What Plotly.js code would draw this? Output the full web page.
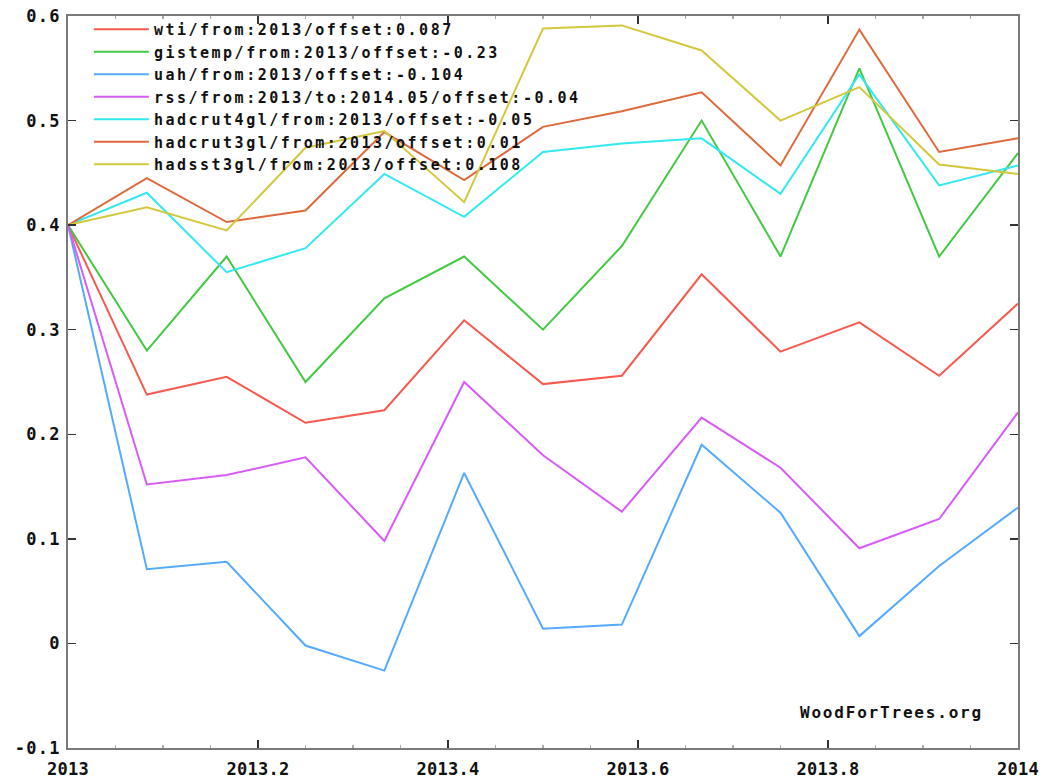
<!DOCTYPE html>
<html>
<head>
<meta charset="utf-8">
<script src="https://cdn.plot.ly/plotly-3.0.1.min.js"></script>
<style>
  html, body { margin: 0; padding: 0; background: #ffffff; }
  #chart { width: 1047px; height: 781px; }
  .legendtext { letter-spacing: 2.5px; }
  .annotation-text { letter-spacing: 1.8px; }
  .ytick text { letter-spacing: 1.2px; }
  .xtick text { letter-spacing: 0.3px; }
</style>
</head>
<body>
<div id="chart"></div>
<script>
// Time axis (decimal years, monthly)
var months = [2013, 2013.083, 2013.167, 2013.25, 2013.333, 2013.417, 2013.5, 2013.583, 2013.667, 2013.75, 2013.833, 2013.917, 2014];

// Series values (offset anomalies)
var wti        = [0.400, 0.238, 0.255, 0.211, 0.223, 0.309, 0.248, 0.256, 0.353, 0.279, 0.307, 0.256, 0.325];
var gistemp    = [0.400, 0.280, 0.370, 0.250, 0.330, 0.370, 0.300, 0.380, 0.500, 0.370, 0.550, 0.370, 0.469];
var uah        = [0.400, 0.071, 0.078, -0.002, -0.026, 0.163, 0.014, 0.018, 0.190, 0.125, 0.007, 0.074, 0.130];
var rss        = [0.400, 0.152, 0.161, 0.178, 0.098, 0.250, 0.180, 0.126, 0.216, 0.168, 0.091, 0.119, 0.221];
var hadcrut4gl = [0.400, 0.431, 0.355, 0.378, 0.449, 0.408, 0.470, 0.478, 0.483, 0.430, 0.544, 0.438, 0.457];
var hadcrut3gl = [0.400, 0.445, 0.403, 0.414, 0.489, 0.443, 0.494, 0.509, 0.527, 0.457, 0.587, 0.470, 0.483];
var hadsst3gl  = [0.400, 0.417, 0.395, 0.474, 0.490, 0.422, 0.588, 0.591, 0.567, 0.500, 0.532, 0.458, 0.449];

// Legend labels
var seriesNames = [
  "wti/from:2013/offset:0.087",
  "gistemp/from:2013/offset:-0.23",
  "uah/from:2013/offset:-0.104",
  "rss/from:2013/to:2014.05/offset:-0.04",
  "hadcrut4gl/from:2013/offset:-0.05",
  "hadcrut3gl/from:2013/offset:0.01",
  "hadsst3gl/from:2013/offset:0.108"
];
var seriesColors = ["#f55a50", "#44c844", "#55aaff", "#d65cf5", "#33e8ee", "#dc6a3c", "#d2c83c"];

// Tick labels
var xTickVals = [2013, 2013.2, 2013.4, 2013.6, 2013.8, 2014];
var xTickText = ["2013", "2013.2", "2013.4", "2013.6", "2013.8", "2014"];
var yTickVals = [-0.1, 0, 0.1, 0.2, 0.3, 0.4, 0.5, 0.6];
var yTickText = ["-0.1", "0", "0.1", "0.2", "0.3", "0.4", "0.5", "0.6"];

var seriesData = [wti, gistemp, uah, rss, hadcrut4gl, hadcrut3gl, hadsst3gl];
var traces = seriesData.map(function (vals, i) {
  return {
    type: "scatter",
    mode: "lines",
    x: months,
    y: vals,
    name: seriesNames[i],
    line: { color: seriesColors[i], width: 2 },
    hoverinfo: "skip"
  };
});

var monoFont = "DejaVu Sans Mono, Liberation Mono, monospace";

var layout = {
  width: 1047,
  height: 781,
  margin: { l: 68, r: 29, t: 16, b: 33, pad: 0 },
  paper_bgcolor: "#ffffff",
  plot_bgcolor: "#ffffff",
  showlegend: true,
  legend: {
    x: 0.022, y: 1.004, xanchor: "left", yanchor: "top",
    bgcolor: "rgba(0,0,0,0)",
    borderwidth: 0,
    itemwidth: 55,
    tracegroupgap: 0,
    font: { family: monoFont, size: 15, color: "#111111", weight: "bold" }
  },
  xaxis: {
    range: [2013, 2014],
    tickmode: "array",
    tickvals: xTickVals,
    ticktext: xTickText,
    ticks: "inside",
    ticklen: 8,
    tickwidth: 1.5,
    tickcolor: "#333333",
    showline: true,
    linecolor: "#7a7a7a",
    linewidth: 2,
    mirror: "ticks",
    showgrid: false,
    zeroline: false,
    ticklabelstandoff: 5,
    minor: { ticks: "inside", ticklen: 3, tickcolor: "#aaaaaa", dtick: 0.05, tick0: 2013, showgrid: false },
    tickfont: { family: monoFont, size: 17, color: "#111111", weight: "bold" },
    fixedrange: true
  },
  yaxis: {
    range: [-0.1, 0.6],
    tickmode: "array",
    tickvals: yTickVals,
    ticktext: yTickText,
    ticks: "inside",
    ticklen: 8,
    tickwidth: 1.5,
    tickcolor: "#333333",
    showline: true,
    linecolor: "#7a7a7a",
    linewidth: 2,
    mirror: "ticks",
    showgrid: false,
    zeroline: false,
    ticklabelstandoff: 2,
    tickfont: { family: monoFont, size: 17, color: "#111111", weight: "bold" },
    fixedrange: true
  },
  annotations: [{
    text: "WoodForTrees.org",
    xref: "paper", yref: "paper",
    x: 0.9653, y: 0.048,
    xanchor: "right", yanchor: "middle",
    showarrow: false,
    font: { family: monoFont, size: 16, color: "#111111", weight: "bold" }
  }]
};

Plotly.newPlot("chart", traces, layout, { displayModeBar: false, staticPlot: true });
</script>
</body>
</html>
